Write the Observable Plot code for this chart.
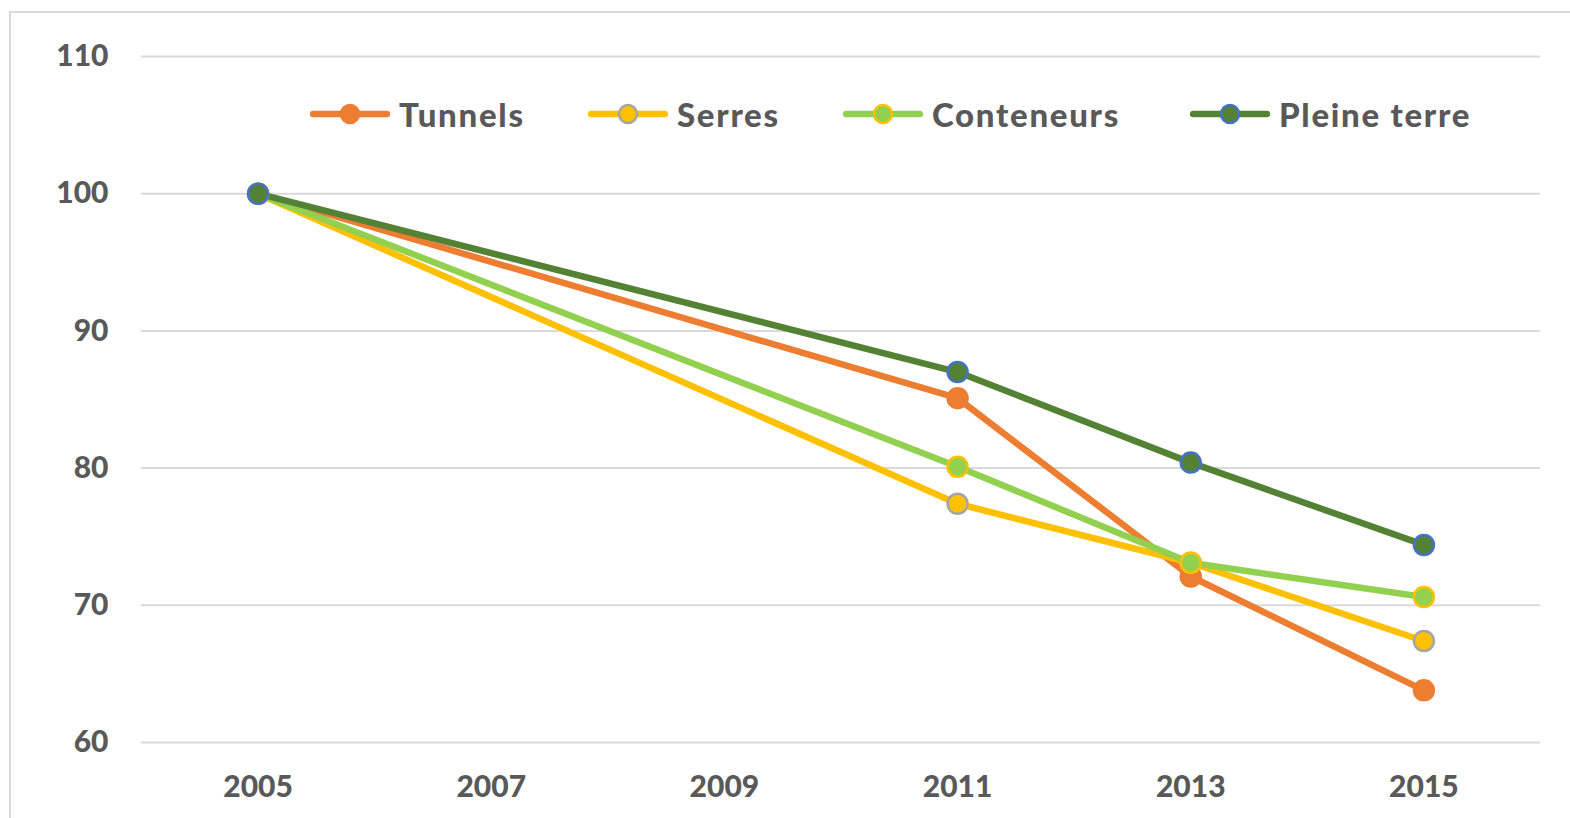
<!DOCTYPE html>
<html>
<head>
<meta charset="utf-8">
<script src="https://cdn.jsdelivr.net/npm/d3@7"></script>
<script src="https://cdn.jsdelivr.net/npm/@observablehq/plot@0.6"></script>
<style>
  html, body { margin: 0; padding: 0; background: #fff; overflow: hidden; }
  #wrap { position: relative; width: 1570px; height: 818px; overflow: hidden; }
  #frame { position: absolute; left: 9px; top: 11px; width: 1700px; height: 900px; border: 2px solid #d9d9d9; box-sizing: border-box; }
  #chart { position: absolute; left: 0; top: 0; }
  .leg { position: absolute; display: flex; align-items: center; font-family: Lato, sans-serif; font-weight: 900; font-size: 33px; letter-spacing: 1.7px; color: #595959; white-space: nowrap; }
  .leg svg { margin-right: 9px; }
</style>
</head>
<body>
<div id="wrap">
  <div id="frame"></div>
  <div id="chart"></div>
  <div id="legend"></div>
</div>
<script>
const years = [2005, 2011, 2013, 2015];
const seriesNames = ["Tunnels", "Serres", "Conteneurs", "Pleine terre"];
const tunnels = [100, 85.1, 72.1, 63.8];
const serres = [100, 77.4, 73.1, 67.4];
const conteneurs = [100, 80.1, 73.1, 70.6];
const pleineTerre = [100, 87.0, 80.4, 74.4];
const xTicks = [2005, 2007, 2009, 2011, 2013, 2015];
const yTicks = [60, 70, 80, 90, 100, 110];
const lineColors = ["#ED7D31", "#FFC000", "#92D050", "#548235"];
const markerStrokes = ["#ED7D31", "#A5A5A5", "#FFC000", "#4472C4"];

const seriesValues = [tunnels, serres, conteneurs, pleineTerre];
const data = seriesNames.flatMap((s, i) =>
  years.map((yr, j) => ({series: s, year: yr, value: seriesValues[i][j]})));

const marks = [
  Plot.gridY(yTicks, {stroke: "#d9d9d9", strokeOpacity: 1, strokeWidth: 2}),
  Plot.axisY(yTicks, {tickSize: 0, tickPadding: 33, fontSize: 30, fontWeight: 900, label: null}),
  Plot.axisX(xTicks, {tickSize: 0, tickPadding: 33, fontSize: 30, fontWeight: 900, label: null, tickFormat: d => String(d)})
];
seriesNames.forEach((s, i) => {
  const d = data.filter(r => r.series === s);
  marks.push(Plot.line(d, {x: "year", y: "value", stroke: lineColors[i], strokeWidth: 6.5, strokeLinejoin: "round", strokeLinecap: "round"}));
});
seriesNames.forEach((s, i) => {
  const d = data.filter(r => r.series === s);
  marks.push(Plot.dot(d, {x: "year", y: "value", r: 10, fill: lineColors[i], stroke: markerStrokes[i], strokeWidth: 2.5}));
});

const chart = Plot.plot({
  width: 1570,
  height: 818,
  marginLeft: 141,
  marginRight: 30,
  marginTop: 56,
  marginBottom: 76,
  x: {domain: [2004, 2016], axis: null},
  y: {domain: [60, 110], axis: null},
  style: {fontFamily: "Lato, sans-serif", color: "#595959", background: "transparent", overflow: "visible"},
  marks
});
document.getElementById("chart").appendChild(chart);

// Legend
const legendX = [310, 588, 843, 1190];
const legendY = 114;
const legend = document.getElementById("legend");
seriesNames.forEach((s, i) => {
  const item = document.createElement("div");
  item.className = "leg";
  item.style.left = legendX[i] + "px";
  item.style.top = (legendY - 24) + "px";
  item.style.height = "48px";
  item.innerHTML = `<svg width="80" height="24" viewBox="0 0 80 24">
    <line x1="3" y1="12" x2="77" y2="12" stroke="${lineColors[i]}" stroke-width="6.5" stroke-linecap="round"/>
    <circle cx="40" cy="12" r="9" fill="${lineColors[i]}" stroke="${markerStrokes[i]}" stroke-width="2.5"/>
  </svg><span>${s}</span>`;
  legend.appendChild(item);
});
</script>
</body>
</html>
